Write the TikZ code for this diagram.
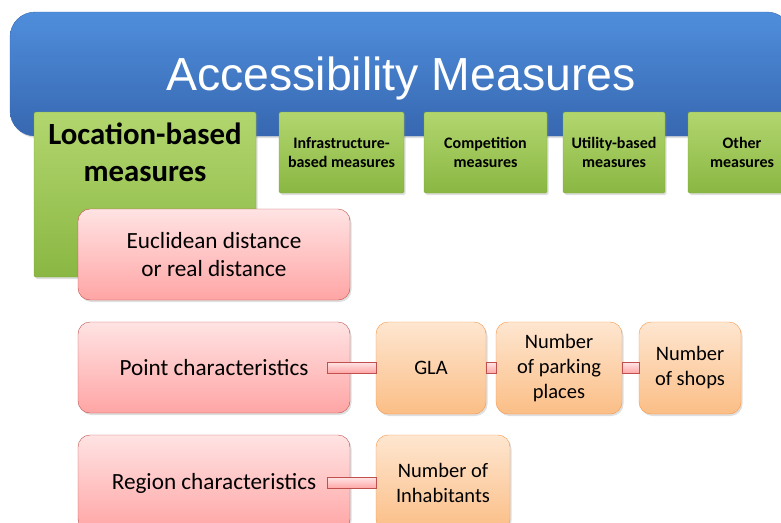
\documentclass[tikz,border=0pt]{standalone}
\usepackage{fontspec}
\setmainfont{Carlito}
\newfontfamily\headfont{Liberation Sans}
\usetikzlibrary{shadows}

\definecolor{bluetop}{HTML}{4F8EDC}
\definecolor{bluebot}{HTML}{3767B0}
\definecolor{bluerim}{HTML}{3A6AB0}
\definecolor{greentop}{HTML}{B2D66E}
\definecolor{greenbot}{HTML}{8AB743}
\definecolor{greenrim}{HTML}{7FA83E}
\definecolor{pinktop}{HTML}{FFE3E3}
\definecolor{pinkbot}{HTML}{FFA5A5}
\definecolor{pinkrim}{HTML}{C0504D}
\definecolor{orangetop}{HTML}{FEE6D0}
\definecolor{orangebot}{HTML}{FBBE86}
\definecolor{orangerim}{HTML}{F79646}

\tikzset{
  boxshadow/.style={drop shadow={shadow xshift=1.5pt,shadow yshift=-2pt,opacity=0.25}},
  banner/.style={boxshadow,rounded corners=25pt,draw=bluerim,top color=bluetop,bottom color=bluebot,
    minimum width=782pt,minimum height=124pt,text=white,
    font=\headfont\fontsize{46.4}{50}\selectfont,text height=33pt,text depth=0pt},
  measure/.style={boxshadow,draw=greenrim,top color=greentop,bottom color=greenbot,rounded corners=1.5pt,
    minimum height=81pt,inner sep=0pt,align=center,font=\bfseries\fontsize{16}{18.5}\selectfont},
  factor/.style={boxshadow,draw=pinkrim,top color=pinktop,bottom color=pinkbot,rounded corners=12pt,
    minimum width=272pt,minimum height=91pt,align=center,font=\fontsize{23.2}{28}\selectfont},
  detail/.style={boxshadow,draw=orangerim,top color=orangetop,bottom color=orangebot,rounded corners=12pt,
    minimum height=92pt,inner sep=0pt,align=center,font=\fontsize{20.5}{25}\selectfont},
  link/.style={draw=pinkrim,top color=pinktop,bottom color=pinkbot}
}

\begin{document}
\begin{tikzpicture}[x=1pt,y=-1pt]
  \useasboundingbox (0,0) rectangle (781,522);
  \clip (0,0) rectangle (781,522);

  \node[banner] (acc) at (401,74) {Accessibility Measures};

  \node[measure,minimum width=222pt,minimum height=165pt] (loc) at (145,194.5) {};
  \node[anchor=north,align=center,font=\bfseries\fontsize{30.8}{37}\selectfont] (loctext) at (145,119) {Location-based\\measures};
  \node[measure,minimum width=125pt] (infra) at (341.5,152.5) {Infrastructure-\\based measures};
  \node[measure,minimum width=123pt] (comp) at (485.5,152.5) {Competition\\measures};
  \node[measure,minimum width=102pt] (util) at (614,152.5) {Utility-based\\measures};
  \node[measure,minimum width=108pt] (other) at (742,152.5) {Other\\measures};

  \node[factor] (euc) at (214,254.5) {Euclidean distance\\or real distance};
  \node[factor] (point) at (214,367.5) {Point characteristics};
  \node[factor,minimum height=96pt] (region) at (214,483) {Region characteristics};

  \node[detail,minimum width=110pt] (gla) at (431,368) {GLA};
  \node[detail,minimum width=126pt] (park) at (559,368) {Number\\of parking\\places};
  \node[detail,minimum width=102pt] (shops) at (690,368) {Number\\of shops};
  \node[detail,minimum width=134pt,minimum height=96pt] (inhab) at (443,483) {Number of\\Inhabitants};

  \draw[link] ([xshift=-23pt,yshift=-5.5pt]point.east) rectangle ([yshift=5.5pt]gla.west);
  \draw[link] ([yshift=-5.5pt]gla.east) rectangle ([yshift=5.5pt]park.west);
  \draw[link] ([yshift=-5.5pt]park.east) rectangle ([yshift=5.5pt]shops.west);
  \draw[link] ([xshift=-23pt,yshift=-5.5pt]region.east) rectangle ([yshift=5.5pt]inhab.west);
\end{tikzpicture}
\end{document}
